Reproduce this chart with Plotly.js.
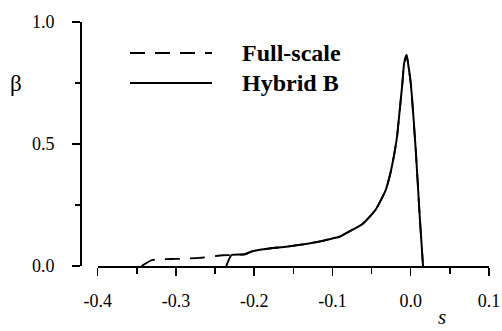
<!DOCTYPE html>
<html>
<head>
<meta charset="utf-8">
<script src="https://cdn.plot.ly/plotly-3.0.1.min.js"></script>
<style>html,body{margin:0;padding:0;background:#fff;}#chart{width:502px;height:331px;}</style>
</head>
<body>
<div id="chart"></div>
<script>
// Hybrid B (solid)
var hybridS = [-0.2357, -0.229, -0.212, -0.202, -0.180, -0.159, -0.130, -0.117, -0.101, -0.091, -0.079, -0.062, -0.045, -0.032, -0.026, -0.021, -0.0175, -0.0149, -0.0107, -0.0085, -0.0053, -0.0034, 0.0, 0.0064, 0.0115, 0.0157];
var hybridBeta = [0, 0.045, 0.048, 0.061, 0.072, 0.079, 0.092, 0.10, 0.112, 0.12, 0.141, 0.171, 0.23, 0.311, 0.38, 0.46, 0.53, 0.612, 0.749, 0.83, 0.865, 0.83, 0.749, 0.475, 0.202, 0];
// Full-scale (dashed)
var fullS = [-0.344, -0.33, -0.30, -0.27, -0.24, -0.229, -0.212, -0.202, -0.180, -0.159, -0.130, -0.117, -0.101, -0.091, -0.079, -0.062, -0.045, -0.032, -0.026, -0.021, -0.0175, -0.0149, -0.0107, -0.0085, -0.0053, -0.0034, 0.0, 0.0064, 0.0115, 0.0157];
var fullBeta = [0, 0.025, 0.029, 0.033, 0.044, 0.045, 0.048, 0.061, 0.072, 0.079, 0.092, 0.10, 0.112, 0.12, 0.141, 0.171, 0.23, 0.311, 0.38, 0.46, 0.53, 0.612, 0.749, 0.83, 0.865, 0.83, 0.749, 0.475, 0.202, 0];
var seriesNames = ['Full-scale', 'Hybrid B'];
var xTicks = [-0.4, -0.3, -0.2, -0.1, 0.0, 0.1];
var xTickText = ['-0.4', '-0.3', '-0.2', '-0.1', '0.0', '0.1'];
var yTicks = [0.0, 0.5, 1.0];
var yTickText = ['0.0', '0.5', '1.0'];

var W = 489; // paper width in px (502 - right margin)
var H = 244; // plot height
function px(x){return x / W;}
function py(y){return (266 - y) / H;}

var serif = 'Liberation Serif';

var traces = [
  {x: fullS, y: fullBeta, mode: 'lines', name: seriesNames[0], line: {color: '#000', width: 1.8, dash: '15px,10px', shape: 'spline', smoothing: 0.5}, xaxis: 'x', yaxis: 'y'},
  {x: hybridS, y: hybridBeta, mode: 'lines', name: seriesNames[1], line: {color: '#000', width: 2, shape: 'spline', smoothing: 0.5}, xaxis: 'x', yaxis: 'y'}
];

var layout = {
  width: 502, height: 331,
  margin: {l: 0, r: 13, t: 22, b: 65},
  paper_bgcolor: '#fff', plot_bgcolor: '#fff',
  showlegend: false,
  font: {family: serif, color: '#000', size: 18},
  xaxis: {
    domain: [px(97.7), 1],
    range: [-0.4, 0.1],
    tickvals: xTicks, ticktext: xTickText,
    ticks: 'outside', ticklen: 8, tickwidth: 1.5, tickcolor: '#000',
    minor: {dtick: 0.05, ticks: 'outside', ticklen: 6, tickwidth: 1.5, tickcolor: '#000'},
    showline: true, linecolor: '#000', linewidth: 1.5,
    showgrid: false, zeroline: false,
    tickfont: {family: serif, size: 18},
    ticklabelstandoff: 10
  },
  yaxis: {
    anchor: 'free', position: px(80),
    range: [0, 1.0],
    tickvals: yTicks, ticktext: yTickText,
    ticks: 'outside', ticklen: 8, tickwidth: 1.5, tickcolor: '#000',
    minor: {dtick: 0.25, ticks: 'outside', ticklen: 5, tickwidth: 1.5, tickcolor: '#000'},
    showline: true, linecolor: '#000', linewidth: 1.5,
    showgrid: false, zeroline: false,
    tickfont: {family: serif, size: 18},
    ticklabelstandoff: 14
  },
  shapes: [
    {type: 'line', xref: 'paper', yref: 'paper', x0: px(130), x1: px(212), y0: py(53), y1: py(53), line: {color: '#000', width: 1.8, dash: '15px,10px'}},
    {type: 'line', xref: 'paper', yref: 'paper', x0: px(130), x1: px(212), y0: py(83), y1: py(83), line: {color: '#000', width: 1.8}}
  ],
  annotations: [
    {xref: 'paper', yref: 'paper', x: px(240), y: py(53), xanchor: 'left', yanchor: 'middle', text: '<b>' + seriesNames[0] + '</b>', showarrow: false, font: {family: serif, size: 24}},
    {xref: 'paper', yref: 'paper', x: px(240), y: py(83), xanchor: 'left', yanchor: 'middle', text: '<b>' + seriesNames[1] + '</b>', showarrow: false, font: {family: serif, size: 24}},
    {xref: 'paper', yref: 'paper', x: px(16), y: py(83), xanchor: 'center', yanchor: 'middle', text: 'β', showarrow: false, font: {family: serif, size: 23}},
    {xref: 'paper', yref: 'paper', x: px(442), y: py(330), xanchor: 'center', yanchor: 'bottom', borderpad: 0, text: '<i>s</i>', showarrow: false, font: {family: serif, size: 21}}
  ]
};

Plotly.newPlot('chart', traces, layout, {staticPlot: true, displayModeBar: false});
</script>
</body>
</html>
